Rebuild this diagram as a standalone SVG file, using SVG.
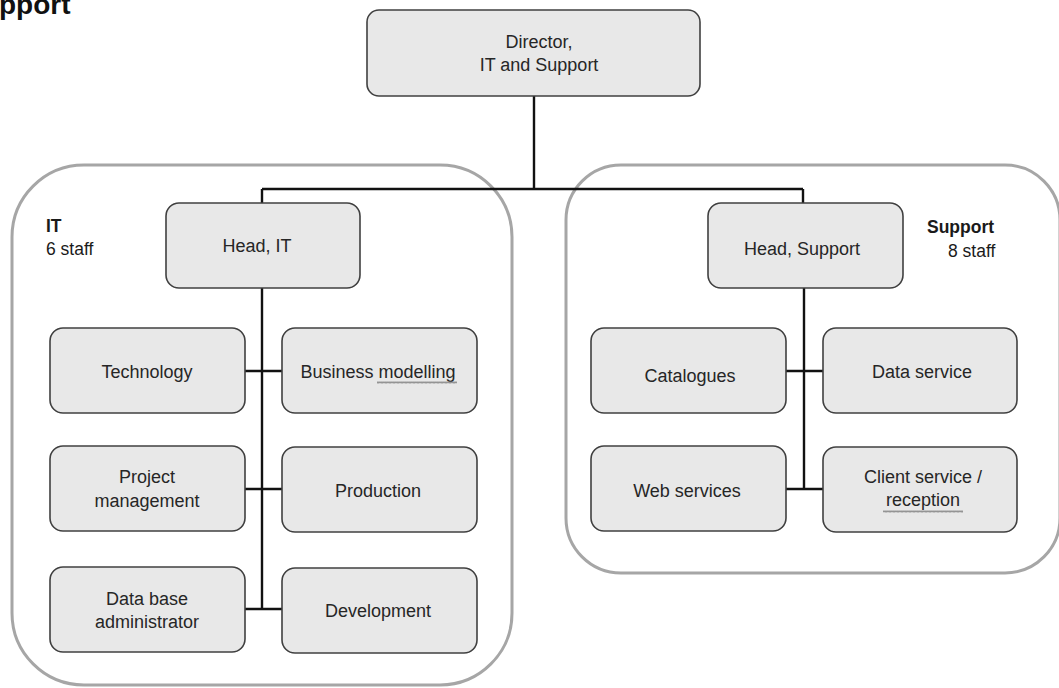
<svg xmlns="http://www.w3.org/2000/svg" width="1059" height="688" viewBox="0 0 1059 688">
  <style>
    .group { fill: #ffffff; stroke: #a6a6a6; stroke-width: 3; }
    .box { fill: #e8e8e8; stroke: #404040; stroke-width: 1.6; }
    .lbl { font-family: "Liberation Sans", Arial, sans-serif; font-size: 18px; fill: #262626; text-anchor: middle; }
    .note { font-family: "Liberation Sans", Arial, sans-serif; font-size: 17.5px; fill: #1a1a1a; }
    .bold { font-weight: bold; }
    .conn { fill: none; stroke: #111111; stroke-width: 2.4; }
    .squiggle { fill: none; stroke: #8a8a8a; stroke-width: 0.9; }
  </style>
  <defs>
    <pattern id="wave" x="0" y="0" width="4" height="3" patternUnits="userSpaceOnUse">
      <path d="M0,2.5 L1,0.5 L2,2.5 L3,0.5 L4,2.5" class="squiggle"/>
    </pattern>
  </defs>
  <rect width="1059" height="688" fill="#ffffff"/>

  <!-- page heading, clipped at the top-left corner -->
  <text x="-1" y="14" font-family="Liberation Sans, Arial, sans-serif" font-size="28" font-weight="bold" fill="#111111">pport</text>

  <!-- department containers -->
  <g id="dept-it">
    <rect class="group" x="12" y="165" width="500" height="520" rx="72" ry="72"/>
    <text class="note bold" x="46" y="232">IT</text>
    <text class="note" x="46" y="255">6 staff</text>
  </g>
  <g id="dept-support">
    <rect class="group" x="566" y="165" width="494" height="408" rx="55" ry="55"/>
    <text class="note bold" x="927" y="233">Support</text>
    <text class="note" x="948" y="257">8 staff</text>
  </g>

  <!-- reporting lines -->
  <g id="connectors">
    <path class="conn" d="M534,96 V189 M262,189 H803 M262,189 V203 M803,189 V203"/>
    <path class="conn" d="M262,288 V609 M245,371 H282 M245,489 H282 M245,609 H282"/>
    <path class="conn" d="M804,288 V489 M786,371 H823 M786,489 H823"/>
  </g>

  <g id="director">
    <rect class="box" x="367" y="10" width="333" height="86" rx="12"/>
    <text class="lbl" x="539" y="48">Director,</text>
    <text class="lbl" x="539" y="71">IT and Support</text>
  </g>

  <g id="head-it">
    <rect class="box" x="166" y="203" width="194" height="85" rx="13"/>
    <text class="lbl" x="257" y="252">Head, IT</text>
  </g>
  <g id="head-support">
    <rect class="box" x="708" y="203" width="195" height="85" rx="13"/>
    <text class="lbl" x="802" y="255">Head, Support</text>
  </g>

  <g id="technology">
    <rect class="box" x="50" y="328" width="195" height="85" rx="13"/>
    <text class="lbl" x="147" y="378">Technology</text>
  </g>
  <g id="business-modelling">
    <rect class="box" x="282" y="328" width="195" height="85" rx="13"/>
    <text class="lbl" x="378" y="378">Business modelling</text>
    <rect x="377" y="381" width="80" height="3" fill="url(#wave)"/>
  </g>
  <g id="project-management">
    <rect class="box" x="50" y="446" width="195" height="85" rx="13"/>
    <text class="lbl" x="147" y="483">Project</text>
    <text class="lbl" x="147" y="507">management</text>
  </g>
  <g id="production">
    <rect class="box" x="282" y="447" width="195" height="85" rx="13"/>
    <text class="lbl" x="378" y="497">Production</text>
  </g>
  <g id="database-administrator">
    <rect class="box" x="50" y="567" width="195" height="85" rx="13"/>
    <text class="lbl" x="147" y="605">Data base</text>
    <text class="lbl" x="147" y="628">administrator</text>
  </g>
  <g id="development">
    <rect class="box" x="282" y="568" width="195" height="85" rx="13"/>
    <text class="lbl" x="378" y="617">Development</text>
  </g>

  <g id="catalogues">
    <rect class="box" x="591" y="328" width="195" height="85" rx="13"/>
    <text class="lbl" x="690" y="382">Catalogues</text>
  </g>
  <g id="data-service">
    <rect class="box" x="823" y="328" width="194" height="85" rx="13"/>
    <text class="lbl" x="922" y="378">Data service</text>
  </g>
  <g id="web-services">
    <rect class="box" x="591" y="446" width="195" height="85" rx="13"/>
    <text class="lbl" x="687" y="497">Web services</text>
  </g>
  <g id="client-service">
    <rect class="box" x="823" y="447" width="194" height="85" rx="13"/>
    <text class="lbl" x="923" y="483">Client service /</text>
    <text class="lbl" x="923" y="506">reception</text>
    <rect x="883" y="510" width="80" height="3" fill="url(#wave)"/>
  </g>
</svg>
